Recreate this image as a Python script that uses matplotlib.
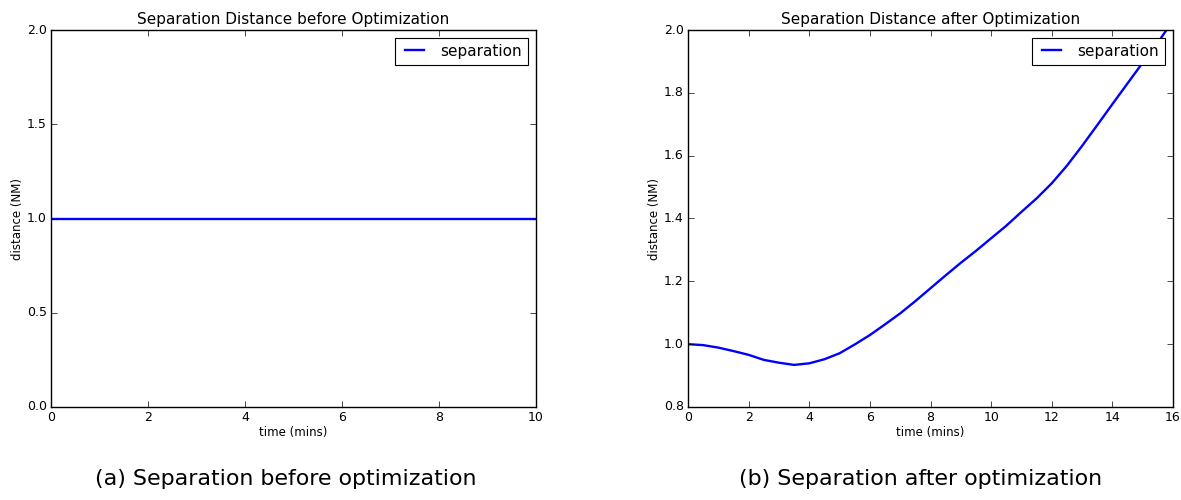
import numpy as np
import matplotlib.pyplot as plt

plt.style.use('classic')

# separation before optimization (constant)
t_before = [0, 10]
d_before = [1.0, 1.0]

# separation after optimization
t_after = [0, 0.5, 1, 1.5, 2, 2.5, 3, 3.5, 4, 4.5, 5, 5.5, 6, 6.5, 7, 7.5, 8, 8.5,
           9, 9.5, 10, 10.5, 11, 11.5, 12, 12.5, 13, 13.5, 14, 14.5, 15, 15.5, 16]
d_after = [1.0, 0.997, 0.989, 0.978, 0.966, 0.950, 0.941, 0.934, 0.939, 0.952,
           0.971, 0.999, 1.029, 1.063, 1.098, 1.137, 1.178, 1.219, 1.259, 1.297,
           1.337, 1.377, 1.421, 1.464, 1.512, 1.568, 1.631, 1.697, 1.764, 1.830,
           1.896, 1.96, 2.03]

fig = plt.figure(figsize=(11.81, 5.0), dpi=100, facecolor='white')

ax1 = fig.add_axes([51/1181, 1-407/500, 485/1181, 377/500])
ax2 = fig.add_axes([688/1181, 1-407/500, 485/1181, 377/500])

ax1.plot(t_before, d_before, color='b', lw=1.7, label='separation')
ax1.set_xlim(0, 10)
ax1.set_ylim(0, 2.0)
ax1.set_yticks([0, 0.5, 1.0, 1.5, 2.0])
ax1.set_title('Separation Distance before Optimization', fontsize=11, pad=4)

ax2.plot(t_after, d_after, color='b', lw=1.7, label='separation')
ax2.set_xlim(0, 16)
ax2.set_ylim(0.8, 2.0)
ax2.set_title('Separation Distance after Optimization', fontsize=11, pad=4)

for ax in (ax1, ax2):
    ax.set_xlabel('time (mins)', fontsize=8.5, labelpad=1)
    ax.set_ylabel('distance (NM)', fontsize=8.5, labelpad=2)
    ax.tick_params(labelsize=9, pad=3)
    ax.yaxis.set_major_formatter(plt.FormatStrFormatter('%.1f'))
    leg = ax.legend(loc='upper right', fontsize=11, handlelength=1.8,
                    borderaxespad=0.5, fancybox=False)
    leg.get_frame().set_linewidth(0.8)

fig.text(286/1181, 1-479/500, '(a) Separation before optimization',
         ha='center', va='center', fontsize=15.9)
fig.text(921/1181, 1-479/500, '(b) Separation after optimization',
         ha='center', va='center', fontsize=15.9)

fig.savefig('out.png', dpi=100, facecolor='white')
